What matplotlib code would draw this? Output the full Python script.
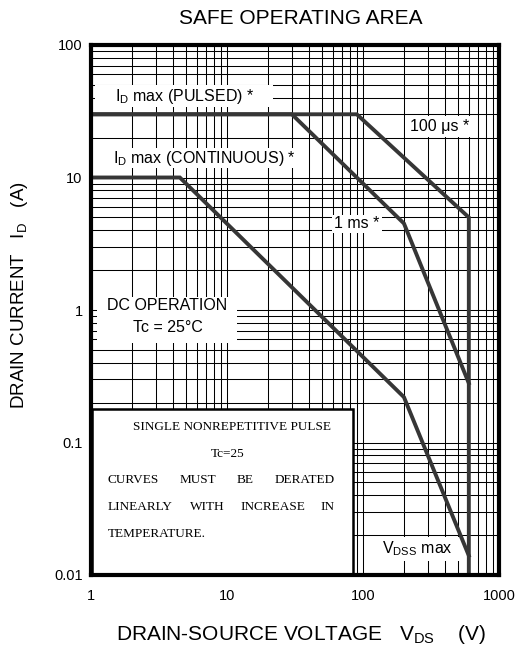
import matplotlib
matplotlib.use("Agg")
import matplotlib.pyplot as plt
from matplotlib.patches import Rectangle

plt.rcParams['font.family'] = ['Liberation Sans', 'DejaVu Sans']
plt.rcParams['mathtext.fontset'] = 'custom'
plt.rcParams['mathtext.rm'] = 'Liberation Sans'
plt.rcParams['mathtext.it'] = 'Liberation Sans'

# ---- data ----
v_100us = [1, 90, 600, 600]
i_100us = [30, 30, 5, 0.01]
v_1ms = [1, 30, 200, 600]
i_1ms = [30, 30, 4.5, 0.28]
v_dc = [1, 4.5, 200, 600]
i_dc = [10, 10, 0.22, 0.014]
x_ticks = [1, 10, 100, 1000]
x_ticklabels = ["1", "10", "100", "1000"]
y_ticks = [0.01, 0.1, 1, 10, 100]
y_ticklabels = ["0.01", "0.1", "1", "10", "100"]

W, H = 518, 650
fig = plt.figure(figsize=(W / 100, H / 100), dpi=100)
L, R, T, B = 91, 499, 45, 575
ax = fig.add_axes([L / W, 1 - B / H, (R - L) / W, (B - T) / H])

def ap(px, py):
    return ((px - L) / (R - L), (B - py) / (B - T))

def fp(px, py):
    return (px / W, 1 - py / H)

ax.set_xscale('log')
ax.set_yscale('log')
ax.set_xlim(1, 1000)
ax.set_ylim(0.01, 100)
ax.grid(True, which='both', color='black', linewidth=0.75, zorder=1)
ax.set_axisbelow(True)
ax.set_xticks(x_ticks)
ax.set_xticklabels(x_ticklabels)
ax.set_yticks(y_ticks)
ax.set_yticklabels(y_ticklabels)
ax.tick_params(which='both', length=0, labelsize=10.5)
ax.tick_params(axis='x', pad=10)
ax.tick_params(axis='y', pad=6)
for s in ax.spines.values():
    s.set_linewidth(3)
    s.set_zorder(10)

lc = '#363636'
lw = 2.8
ax.plot(v_100us, i_100us, color=lc, lw=lw, zorder=5, solid_joinstyle='miter')
ax.plot(v_1ms, i_1ms, color=lc, lw=lw, zorder=5, solid_joinstyle='miter')
ax.plot(v_dc, i_dc, color=lc, lw=lw, zorder=5, solid_joinstyle='miter')

def wbox(x0, y0, x1, y1, z=3, edge=None, elw=0):
    ax0, ay1 = ap(x0, y1)
    ax1, ay0 = ap(x1, y0)
    ax.add_patch(Rectangle((ax0, ay1), ax1 - ax0, ay0 - ay1, transform=ax.transAxes,
                           facecolor='white', edgecolor=edge if edge else 'none',
                           linewidth=elw, zorder=z))

# label backgrounds
wbox(95, 85, 273, 107)
wbox(405, 116, 475, 137)
wbox(108, 148, 300, 168)
wbox(332, 215, 382, 233)
wbox(97, 297, 237, 343)
wbox(372, 537, 462, 561)
wbox(92, 409, 353, 578, z=6, edge='black', elw=1.8)

fs = 11.5
def atext(px, py, s, ha='center', z=7, **kw):
    x, y = ap(px, py)
    ax.text(x, y, s, transform=ax.transAxes, ha=ha, va='center', zorder=z, **kw)

atext(185, 96, r"$\mathregular{I_D}$ max (PULSED) *", fontsize=fs)
atext(440, 127, "100 μs *", fontsize=fs)
atext(204, 158, r"$\mathregular{I_D}$ max (CONTINUOUS) *", fontsize=fs)
atext(357, 223, "1 ms *", fontsize=fs)
atext(167, 306, "DC OPERATION", fontsize=fs)
atext(168, 327, "Tc = 25°C", fontsize=fs)
atext(417, 549, r"$\mathregular{V_{DSS}}$ max", fontsize=fs)

serif = ['Liberation Serif', 'DejaVu Serif']
sfs = 9.5
atext(232, 427, "SINGLE NONREPETITIVE PULSE", fontsize=sfs, family=serif)
atext(228, 454, "Tc=25", fontsize=sfs, family=serif)
for px, w in [(108, "CURVES"), (180, "MUST"), (237, "BE"), (275, "DERATED")]:
    atext(px, 480, w, ha='left', fontsize=sfs, family=serif)
for px, w in [(108, "LINEARLY"), (190, "WITH"), (240, "INCREASE"), (320, "IN")]:
    atext(px, 507, w, ha='left', fontsize=sfs, family=serif)
atext(108, 534, "TEMPERATURE.", ha='left', fontsize=sfs, family=serif)

x, y = fp(301, 18)
fig.text(x, y, "SAFE OPERATING AREA", ha='center', va='center', fontsize=15)
x, y = fp(301, 635)
fig.text(x, y, r"DRAIN-SOURCE VOLTAGE   $\mathregular{V_{DS}}$    (V)", ha='center', va='center', fontsize=15)
x, y = fp(20, 295)
fig.text(x, y, r"DRAIN CURRENT   $\mathregular{I_D}$   (A)", ha='center', va='center', rotation=90, fontsize=13.5)

fig.savefig("out.png", dpi=100)
